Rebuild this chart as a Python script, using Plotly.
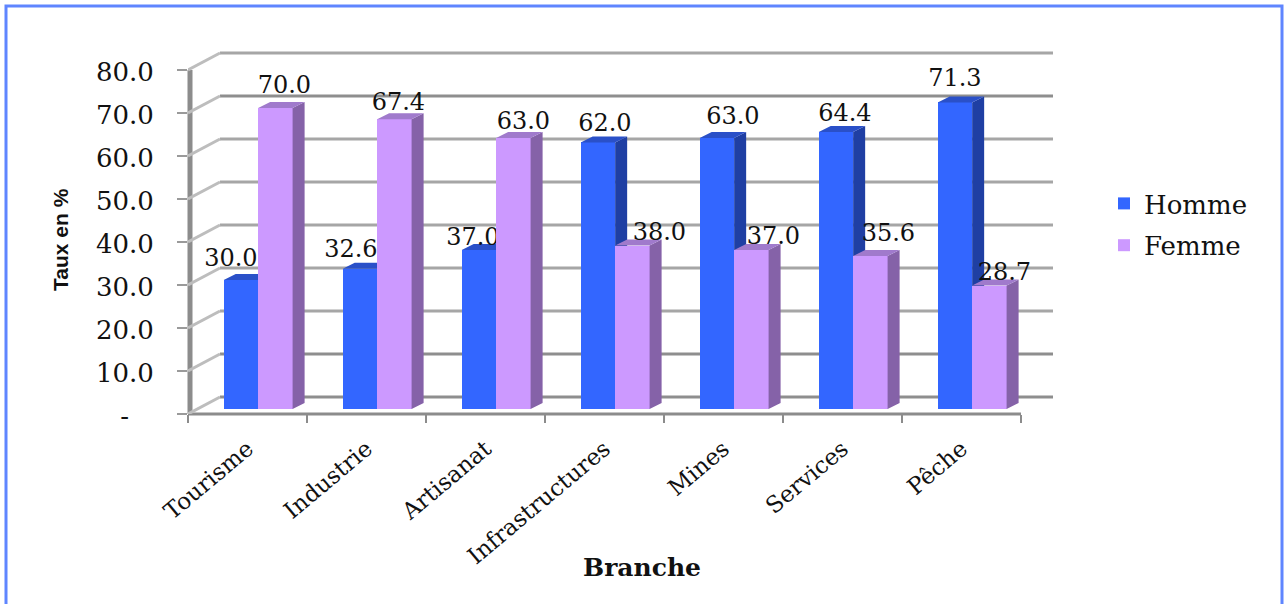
import numpy as np
import plotly.graph_objects as go

# Employment rate by sex and branch
BRANCHES = ["Tourisme", "Industrie", "Artisanat", "Infrastructures", "Mines", "Services", "Pêche"]
HOMME = [30.0, 32.6, 37.0, 62.0, 63.0, 64.4, 71.3]
FEMME = [70.0, 67.4, 63.0, 38.0, 37.0, 35.6, 28.7]
Y_TICKS = [0, 10, 20, 30, 40, 50, 60, 70, 80]
Y_TICK_TEXT = ["-\u00a0\u00a0\u00a0"] + [f"{v:.1f}" for v in Y_TICKS[1:]]

# Per-label nudges in pixels, so labels sit clear of the pseudo-3D columns
HOMME_SHIFT_X = [-10, -9, -6, 7, 16, 9, 0]
HOMME_SHIFT_Y = [20, 18, 11, 17, 20, 17, 22]
FEMME_SHIFT_X = [9, 4, 10, 27, 22, 18, 15]
FEMME_SHIFT_Y = [21, 15, 15, 12, 12, 21, 12]

# Canvas geometry
W, H = 1286, 604
LEFT, RIGHT, TOP, BOTTOM = 188, 1056, 48, 414
PX_CAT = 119.0
PX_UNIT = 4.3
x_range = [0, (RIGHT - LEFT) / PX_CAT]
y_range = [0, (BOTTOM - TOP) / PX_UNIT]

# Depth of the back wall and of the columns, in axis units
WALL_DX, WALL_DY = 32 / PX_CAT, 17 / PX_UNIT
BAR_DX, BAR_DY = 12 / PX_CAT, 6 / PX_UNIT
BAR_LIFT = 5 / PX_UNIT
BAR_START, BAR_W = 0.3, 0.2895

BLUE, BLUE_SIDE, BLUE_TOP = "#3366FF", "#1F3FA3", "#2A50C8"
PURPLE, PURPLE_SIDE, PURPLE_TOP = "#CC99FF", "#8562A8", "#A07ACC"
SERIF = "DejaVu Serif"
INK = "#111111"


def px_x(px):
    return (px - LEFT) / (RIGHT - LEFT)


def px_y(px):
    return (BOTTOM - px) / (BOTTOM - TOP)


def faces(values, offset):
    """Side and top faces of each column, separated by gaps for a single filled trace."""
    sx, sy, tx, ty = [], [], [], []
    for i, v in enumerate(values):
        x0 = i + offset
        x1 = x0 + BAR_W
        top = BAR_LIFT + v
        sx += [x1, x1 + BAR_DX, x1 + BAR_DX, x1, x1, None]
        sy += [BAR_LIFT, BAR_LIFT + BAR_DY, top + BAR_DY, top, BAR_LIFT, None]
        tx += [x0, x0 + BAR_DX, x1 + BAR_DX, x1, x0, None]
        ty += [top, top + BAR_DY, top + BAR_DY, top, top, None]
    return sx, sy, tx, ty


fig = go.Figure()


def add_series(name, values, offset, front, side, top, shift_x, shift_y, xa, ya):
    pos = np.arange(len(values))
    sx, sy, tx, ty = faces(values, offset)
    fig.add_trace(go.Bar(
        x=pos, y=values, base=BAR_LIFT, offset=offset, width=BAR_W, name=name,
        marker=dict(color=front, line=dict(width=0)), legendgroup=name,
        xaxis=xa, yaxis=ya,
    ))
    for fx, fy, col in ((sx, sy, side), (tx, ty, top)):
        fig.add_trace(go.Scatter(
            x=fx, y=fy, mode="lines", fill="toself", fillcolor=col, line=dict(width=0),
            showlegend=False, hoverinfo="skip", xaxis=xa, yaxis=ya,
        ))
    # Value labels
    fig.add_trace(go.Scatter(
        x=[i + offset + BAR_W / 2 + sx_ / PX_CAT for i, sx_ in enumerate(shift_x)],
        y=[BAR_LIFT + v + sy_ / PX_UNIT for v, sy_ in zip(values, shift_y)],
        mode="text", text=[f"{v:.1f}" for v in values], textposition="middle center",
        textfont=dict(family=SERIF, size=24, color=INK),
        showlegend=False, hoverinfo="skip", xaxis=xa, yaxis=ya,
    ))


add_series("Homme", HOMME, BAR_START, BLUE, BLUE_SIDE, BLUE_TOP, HOMME_SHIFT_X, HOMME_SHIFT_Y, "x", "y")
add_series("Femme", FEMME, BAR_START + BAR_W, PURPLE, PURPLE_SIDE, PURPLE_TOP, FEMME_SHIFT_X, FEMME_SHIFT_Y, "x2", "y2")

# Back wall gridlines and their receding segments on the left wall
shapes = []
for v in Y_TICKS:
    wall_col = "#8E8E8E" if v in (0, 10, 70) else "#A6A6A6"
    shapes.append(dict(type="line", xref="x", yref="y", layer="below",
                       x0=WALL_DX, x1=(1053 - LEFT) / PX_CAT, y0=v + WALL_DY, y1=v + WALL_DY,
                       line=dict(color=wall_col, width=3)))
    shapes.append(dict(type="line", xref="x", yref="y", layer="below",
                       x0=0, x1=WALL_DX, y0=v, y1=v + WALL_DY,
                       line=dict(color="#BDBDBD", width=3)))
# Front axis lines
shapes.append(dict(type="line", xref="paper", yref="y", layer="below",
                   x0=px_x(190), x1=px_x(190), y0=0, y1=80,
                   line=dict(color="#8C8C8C", width=5)))
shapes.append(dict(type="line", xref="x", yref="paper", layer="below",
                   x0=0, x1=7, y0=0, y1=0,
                   line=dict(color="#8C8C8C", width=3)))
# Outer frame, open past the lower edge of the page
shapes.append(dict(type="rect", xref="paper", yref="paper", layer="below",
                   x0=px_x(6), x1=px_x(1282), y0=px_y(H + 10), y1=px_y(6),
                   line=dict(color="#5F85FF", width=3), fillcolor="rgba(0,0,0,0)"))

annotations = [
    dict(text="<b>Taux en %</b>", xref="paper", yref="paper", x=px_x(60), y=px_y(240),
         textangle=-90, showarrow=False, xanchor="center", yanchor="middle",
         font=dict(family="Liberation Sans", size=21, color=INK)),
    dict(text="<b>Branche</b>", xref="paper", yref="paper", x=px_x(642), y=px_y(567),
         showarrow=False, xanchor="center", yanchor="middle",
         font=dict(family=SERIF, size=25, color=INK)),
]

fig.update_layout(
    width=W, height=H, autosize=False,
    margin=dict(l=LEFT, r=W - RIGHT, t=TOP, b=H - BOTTOM, pad=0, autoexpand=False),
    paper_bgcolor="white", plot_bgcolor="white",
    barmode="overlay", bargap=0,
    shapes=shapes, annotations=annotations,
    legend=dict(x=px_x(1104), y=px_y(180), xanchor="left", yanchor="top",
                font=dict(family=SERIF, size=26, color=INK), tracegroupgap=5,
                bgcolor="rgba(0,0,0,0)", itemclick=False),
    xaxis=dict(range=x_range, tickmode="array",
               tickvals=[i + 0.5 for i in range(len(BRANCHES))], ticktext=BRANCHES,
               tickangle=-40, ticks="", showgrid=False, zeroline=False, showline=False,
               ticklabelstandoff=16, automargin=False,
               tickfont=dict(family=SERIF, size=23, color=INK),
               minor=dict(tickmode="array", tickvals=list(range(len(BRANCHES) + 1)),
                          ticks="outside", ticklen=8, tickwidth=2, tickcolor="#8C8C8C",
                          showgrid=False)),
    yaxis=dict(range=y_range, tickmode="array", tickvals=Y_TICKS, ticktext=Y_TICK_TEXT,
               ticks="outside", ticklen=10, tickwidth=2, tickcolor="#9A9A9A",
               showgrid=False, zeroline=False, showline=False, automargin=False,
               ticklabelstandoff=18, ticklabelshift=2,
               tickfont=dict(family=SERIF, size=26, color=INK)),
    xaxis2=dict(range=x_range, overlaying="x", visible=False),
    yaxis2=dict(range=y_range, overlaying="y", visible=False),
)

fig.write_html("out.html")
